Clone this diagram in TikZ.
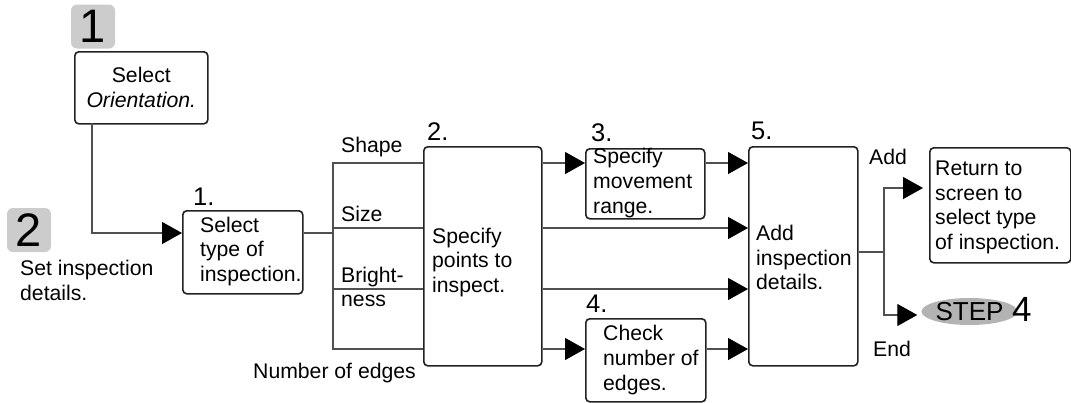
\documentclass[tikz,border=0pt]{standalone}
\usepackage{fontspec}
\setmainfont{Liberation Sans}
\usetikzlibrary{arrows.meta,shapes.geometric}
\definecolor{badge}{HTML}{CCCCCC}
\definecolor{stepfill}{HTML}{B3B3B3}
\definecolor{linecol}{HTML}{505050}
\definecolor{boxcol}{HTML}{222222}
\newcommand\fs{\fontsize{21.2}{24.8}\selectfont}
\begin{document}
\begin{tikzpicture}[x=1pt,y=-1pt,
  box/.style={draw=boxcol, line width=1.6pt, rounded corners=4pt, anchor=north west, inner sep=0pt},
  txt/.style={anchor=west, inner sep=0pt, align=left, font=\fs},
  lbl/.style={inner sep=0pt, font=\fs},
  num/.style={inner sep=0pt, font=\fontsize{25.5}{25.5}\selectfont},
  badgebox/.style={fill=badge, rounded corners=6pt, minimum width=44pt, minimum height=44pt, inner sep=0pt, font=\fontsize{47}{47}\selectfont},
  conn/.style={draw=linecol, line width=1.3pt},
  tip/.style={-{Triangle[length=20pt,width=22pt,color=black]}}
]
\useasboundingbox (0,0) rectangle (1071,402);

% badges
\node[badgebox] (badge1) at (93,26.5) {1};
\node[badgebox] (badge2) at (29,230) {2};
\node[txt] (setdet) at (20,280.5) {Set inspection\\details.};

% boxes
\node[box, minimum width=133pt, minimum height=72pt, align=center, font=\fs] (b0) at (74,51) {Select\\\textit{Orientation.}};
\node[box, minimum width=120pt, minimum height=83pt] (b1) at (182,210) {};
\node[box, minimum width=118pt, minimum height=219pt] (b2) at (423,146) {};
\node[box, minimum width=119pt, minimum height=70pt] (b3) at (585,148) {};
\node[box, minimum width=120pt, minimum height=83pt] (b4) at (585,318) {};
\node[box, minimum width=109pt, minimum height=219pt] (b5) at (748,146) {};
\node[box, minimum width=141pt, minimum height=115pt] (b6) at (929,147) {};

% box texts
\node[txt] (t1) at (200,251.5) {Select\\type of\\inspection.};
\node[txt] (t2) at (432,262.5) {Specify\\points to\\inspect.};
\node[txt] (t3) at (593,183) {Specify\\movement\\range.};
\node[txt] (t4) at (603,360) {Check\\number of\\edges.};
\node[txt] (t5) at (756,257.5) {Add\\inspection\\details.};
\node[txt] (t6) at (935,207.5) {Return to\\screen to\\select type\\of inspection.};

% step numbers
\node[num, anchor=base west] (n1) at (193,205) {1.};
\node[num, anchor=base west] (n2) at (427,140) {2.};
\node[num, anchor=base west] (n3) at (591,141) {3.};
\node[num, anchor=base west] (n4) at (586,312) {4.};
\node[num, anchor=base west] (n5) at (751,139) {5.};

% branch labels
\node[lbl, anchor=base west] (lshape) at (341,152) {Shape};
\node[lbl, anchor=base west] (lsize) at (341,221) {Size};
\node[lbl, anchor=west, align=left] (lbright) at (341,287) {Bright-\\ness};
\node[lbl, anchor=west] (ledges) at (253,373) {Number of edges};
\node[lbl, anchor=west] (ladd) at (869,157) {Add};
\node[lbl, anchor=west] (lend) at (873,349) {End};

% STEP 4
\node[ellipse, fill=stepfill, minimum width=85pt, minimum height=27pt, inner sep=0pt, font=\fontsize{26}{26}\selectfont] (step) at (969.5,311.5) {STEP};
\node[inner sep=0pt, anchor=base west, font=\fontsize{35}{35}\selectfont] (step4) at (1012,321) {4};

% row / column helpers
\coordinate (r0) at (0,233);
\coordinate (rA) at (0,163);
\coordinate (rB) at (0,228);
\coordinate (rC) at (0,289);
\coordinate (rD) at (0,349);
\coordinate (rE) at (0,252);
\coordinate (rF) at (0,188);
\coordinate (rG) at (0,315);
\coordinate (bus) at (333,0);
\coordinate (fork) at (884,0);
\coordinate (c0) at (92,123);

% connectors
\draw[conn,tip] (c0) |- (b1.west |- r0);
\draw[conn] (b1.east |- r0) -- (bus |- r0);
\draw[conn] (b2.west |- rA) -| (bus |- rD) -- (b2.west |- rD);
\draw[conn] (bus |- rB) -- (b2.west |- rB);
\draw[conn] (bus |- rC) -- (b2.west |- rC);

\draw[conn,tip] (b2.east |- rA) -- (b3.west |- rA);
\draw[conn,tip] (b2.east |- rB) -- (b5.west |- rB);
\draw[conn,tip] (b2.east |- rC) -- (b5.west |- rC);
\draw[conn,tip] (b2.east |- rD) -- (b4.west |- rD);
\draw[conn,tip] (b3.east |- rA) -- (b5.west |- rA);
\draw[conn,tip] (b4.east |- rD) -- (b5.west |- rD);

\draw[conn,tip,shorten >=6pt] (b5.east |- rE) -- (fork |- rE) |- (b6.west |- rF);
\draw[conn,tip,shorten >=4pt] (fork |- rE) |- (step.west |- rG);
\end{tikzpicture}
\end{document}
